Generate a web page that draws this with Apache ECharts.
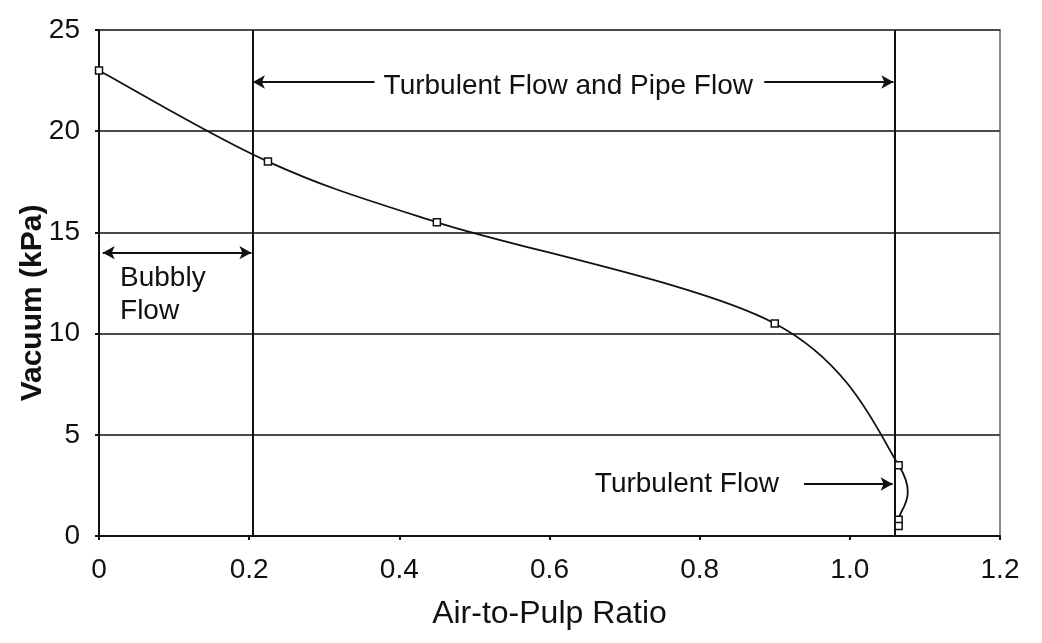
<!DOCTYPE html>
<html>
<head>
<meta charset="utf-8">
<script src="https://cdn.jsdelivr.net/npm/echarts@6/dist/echarts.min.js"></script>
<style>
html,body{margin:0;padding:0;background:#fff;}
#chart{width:1042px;height:643px;}
</style>
</head>
<body>
<div id="chart"></div>
<script>
// Data
const airToPulp = [0, 0.225, 0.45, 0.9, 1.065, 1.065, 1.065];
const vacuum    = [23, 18.5, 15.5, 10.5, 3.5, 0.8, 0.5];
const xTicks = [0, 0.2, 0.4, 0.6, 0.8, 1.0, 1.2];
const yTicks = [0, 5, 10, 15, 20, 25];
const regionBoundaries = [0.205, 1.06];
// annotation arrows: [x1, y1, x2, y2, startArrow, endArrow]
const arrows = [
  [0.205, 22.43, 0.367, 22.43, true, false],
  [0.886, 22.43, 1.058, 22.43, false, true],
  [0.005, 14.0, 0.203, 14.0, true, true],
  [0.939, 2.57, 1.057, 2.57, false, true]
];
// annotation texts: [x, y, text, align]
const notes = [
  [0.625, 22.23, 'Turbulent Flow and Pipe Flow', 'center'],
  [0.028, 11.93, 'Bubbly\nFlow', 'left'],
  [0.783, 2.57, 'Turbulent Flow', 'center']
];

const FONT = '"Liberation Sans", Arial, sans-serif';
const points = airToPulp.map((x, i) => [x, vacuum[i]]);
const chart = echarts.init(document.getElementById('chart'), null, {renderer: 'canvas'});

const markLineData = regionBoundaries.map(x => [
  {coord: [x, 0], symbol: 'none'},
  {coord: [x, 25], symbol: 'none'}
]);
arrows.forEach(a => {
  markLineData.push([
    {coord: [a[0], a[1]], symbol: a[4] ? 'arrow' : 'none'},
    {coord: [a[2], a[3]], symbol: a[5] ? 'arrow' : 'none'}
  ]);
});

// smoothed curve through the points (spreadsheet-style cardinal bezier)
function renderCurve(params, api) {
  if (params.dataIndex !== 0) return null;
  const P = points.map(p => api.coord(p));
  const n = P.length, k = 1 / 6;
  const cpIn = [], cpOut = [];
  for (let i = 0; i < n; i++) {
    const prev = P[i > 0 ? i - 1 : i], next = P[i < n - 1 ? i + 1 : i], c = P[i];
    const vx = next[0] - prev[0], vy = next[1] - prev[1];
    cpIn[i] = [c[0] - vx * k, c[1] - vy * k];
    cpOut[i] = [c[0] + vx * k, c[1] + vy * k];
  }
  let d = 'M' + P[0][0] + ' ' + P[0][1];
  for (let i = 1; i < n; i++) {
    d += ' C' + cpOut[i - 1][0] + ' ' + cpOut[i - 1][1] + ' ' + cpIn[i][0] + ' ' + cpIn[i][1] + ' ' + P[i][0] + ' ' + P[i][1];
  }
  return {type: 'path', shape: {pathData: d}, style: {stroke: '#111', lineWidth: 1.8, fill: null}};
}

chart.setOption({
  animation: false,
  backgroundColor: '#fff',
  grid: {left: 99, right: 42, top: 30, bottom: 107, show: true, borderColor: '#8a8a8a', borderWidth: 2, backgroundColor: 'transparent'},
  xAxis: {
    type: 'value', min: 0, max: 1.2, interval: 0.2,
    name: 'Air-to-Pulp Ratio', nameLocation: 'middle', nameGap: 62,
    nameTextStyle: {fontFamily: FONT, fontSize: 32, color: '#111'},
    axisLine: {show: true, onZero: false, lineStyle: {color: '#111', width: 2}},
    axisTick: {show: true, length: 4, lineStyle: {color: '#111', width: 2}},
    axisLabel: {fontFamily: FONT, fontSize: 28, color: '#111', margin: 20,
      formatter: v => v === 0 ? '0' : v.toFixed(1)},
    splitLine: {show: false}
  },
  yAxis: {
    type: 'value', min: 0, max: 25, interval: 5,
    axisLine: {show: true, onZero: false, lineStyle: {color: '#111', width: 2}},
    axisTick: {show: true, length: 4, lineStyle: {color: '#111', width: 2}},
    axisLabel: {fontFamily: FONT, fontSize: 28, color: '#111', margin: 19},
    splitLine: {show: true, lineStyle: {color: '#4a4a4a', width: 2}}
  },
  series: [{
    type: 'custom',
    data: points,
    renderItem: renderCurve,
    silent: true,
    z: 4
  }, {
    type: 'scatter',
    data: points,
    symbol: 'rect', symbolSize: 7,
    itemStyle: {color: '#fff', borderColor: '#111', borderWidth: 1.5, opacity: 1},
    z: 5,
    markLine: {
      silent: true, animation: false,
      symbol: 'none', symbolSize: [10, 12],
      label: {show: false},
      lineStyle: {color: '#111', width: 2, type: 'solid'},
      emphasis: {disabled: true},
      data: markLineData
    }
  }]
});

const graphics = notes.map(n => {
  const p = chart.convertToPixel({gridIndex: 0}, [n[0], n[1]]);
  return {
    type: 'text', x: p[0], y: p[1], z: 10,
    style: {text: n[2], fontFamily: FONT, fontSize: 28, fill: '#111',
      align: n[3], verticalAlign: 'middle', lineHeight: 33}
  };
});
graphics.push({
  type: 'text', x: 33, y: 303, rotation: Math.PI / 2, z: 10,
  style: {text: 'Vacuum (kPa)', fontFamily: FONT, fontSize: 30, fontWeight: 'bold', fill: '#111',
    align: 'center', verticalAlign: 'middle'}
});
chart.setOption({graphic: graphics});
</script>
</body>
</html>
